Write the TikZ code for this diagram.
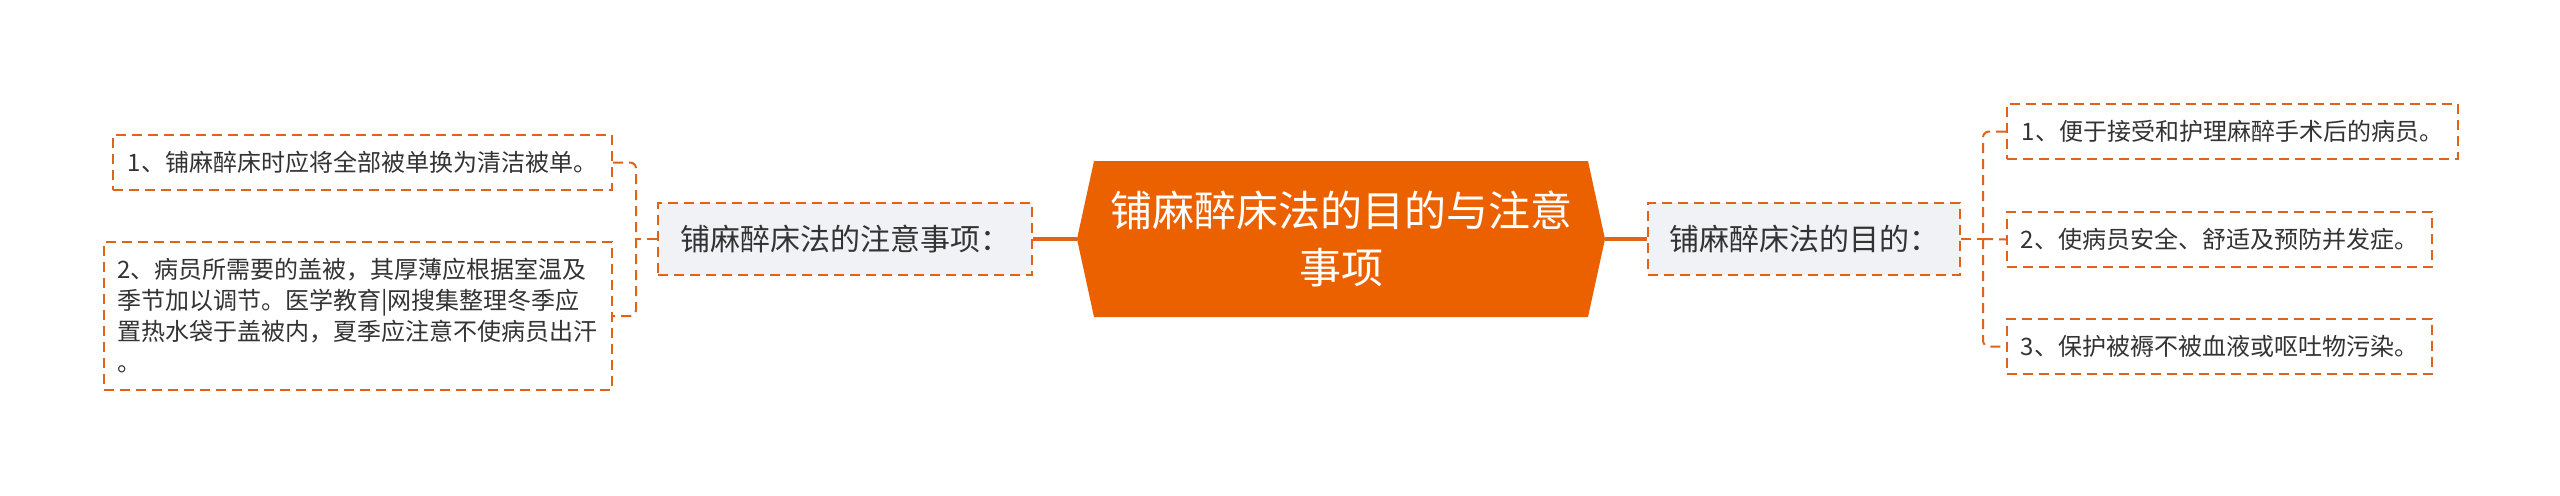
\documentclass[tikz,border=0pt]{standalone}
\usepackage{fontspec}
\setmainfont{Noto Sans CJK SC}
\definecolor{topicorange}{HTML}{EB6100}
\definecolor{lineorange}{HTML}{E0631A}
\definecolor{subgray}{HTML}{F0F2F5}
\definecolor{inkgray}{HTML}{333333}
\tikzset{
	dashbox/.style={draw=lineorange, line width=1pt, dash pattern=on 5pt off 3pt, text=inkgray, inner sep=0pt},
	subnode/.style={dashbox, fill=subgray, minimum height=36pt, font=\fontsize{15}{18}\selectfont},
	leafnode/.style={dashbox, fill=white, minimum height=27.5pt, font=\fontsize{12}{15.5}\selectfont, align=left},
	topicnode/.style={text=white, align=center, inner sep=0pt, font=\fontsize{21}{28.5}\selectfont},
	branch/.style={draw=lineorange, line width=1pt, dash pattern=on 5pt off 3pt, rounded corners=3pt},
	stem/.style={draw=lineorange, line width=2pt},
}

\begin{document}
\begin{tikzpicture}[x=0.5pt, y=-0.5pt]
		%%%%% START %%%%%
		\useasboundingbox (0, 0) rectangle (2560, 495);
		
		\coordinate (topicW) at (1077, 239);
		\coordinate (topicE) at (1605, 239);
		\fill[topicorange] (topicW) -- (1094, 161) -- (1588, 161) -- (topicE) -- (1588, 317) -- (1094, 317) -- cycle;
		\node[topicnode] (topic) at (1341, 239) {铺麻醉床法的目的与注意\\事项};
		
		\node[subnode, minimum width=187pt] (care) at (845, 239) {铺麻醉床法的注意事项：};
		\node[subnode, minimum width=156pt] (aim) at (1804, 239) {铺麻醉床法的目的：};
		
		\node[leafnode, minimum width=249.5pt, anchor=east] (care1) at (613, 162.5) {1、铺麻醉床时应将全部被单换为清洁被单。};
		\node[leafnode, minimum height=74pt, inner xsep=6.5pt, text width=241pt, anchor=east] (care2) at (613, 316) {2、病员所需要的盖被，其厚薄应根据室温及\\季节加以调节。医学教育|网搜集整理冬季应\\置热水袋于盖被内，夏季应注意不使病员出汗\\。};
		
		\node[leafnode, minimum width=225.5pt, anchor=west] (aim1) at (2006, 131.5) {1、便于接受和护理麻醉手术后的病员。};
		\node[leafnode, minimum width=212.5pt, anchor=west] (aim2) at (2006, 239.5) {2、使病员安全、舒适及预防并发症。};
		\node[leafnode, minimum width=212.5pt, anchor=west] (aim3) at (2006, 346.5) {3、保护被褥不被血液或呕吐物污染。};
		
		% centre to the two headings
		\draw[stem] (topicW) -- (care.east);
		\draw[stem] (topicE) -- (aim.west);
		
		% left branch
		\coordinate (careJ) at (636, 239);
		\draw[branch] (care.west) -- (careJ);
		\draw[branch] (care1.east) -| (careJ) |- (care2.east);
		
		% right branch
		\coordinate (aimJ) at (1983, 239);
		\draw[branch] (aim.east) -- (aimJ);
		\draw[branch] (aim1.west) -| (aimJ) |- (aim3.west);
		\draw[branch] (aimJ) -- (aim2.west);
		%%%%% END %%%%%
\end{tikzpicture}
\end{document}
